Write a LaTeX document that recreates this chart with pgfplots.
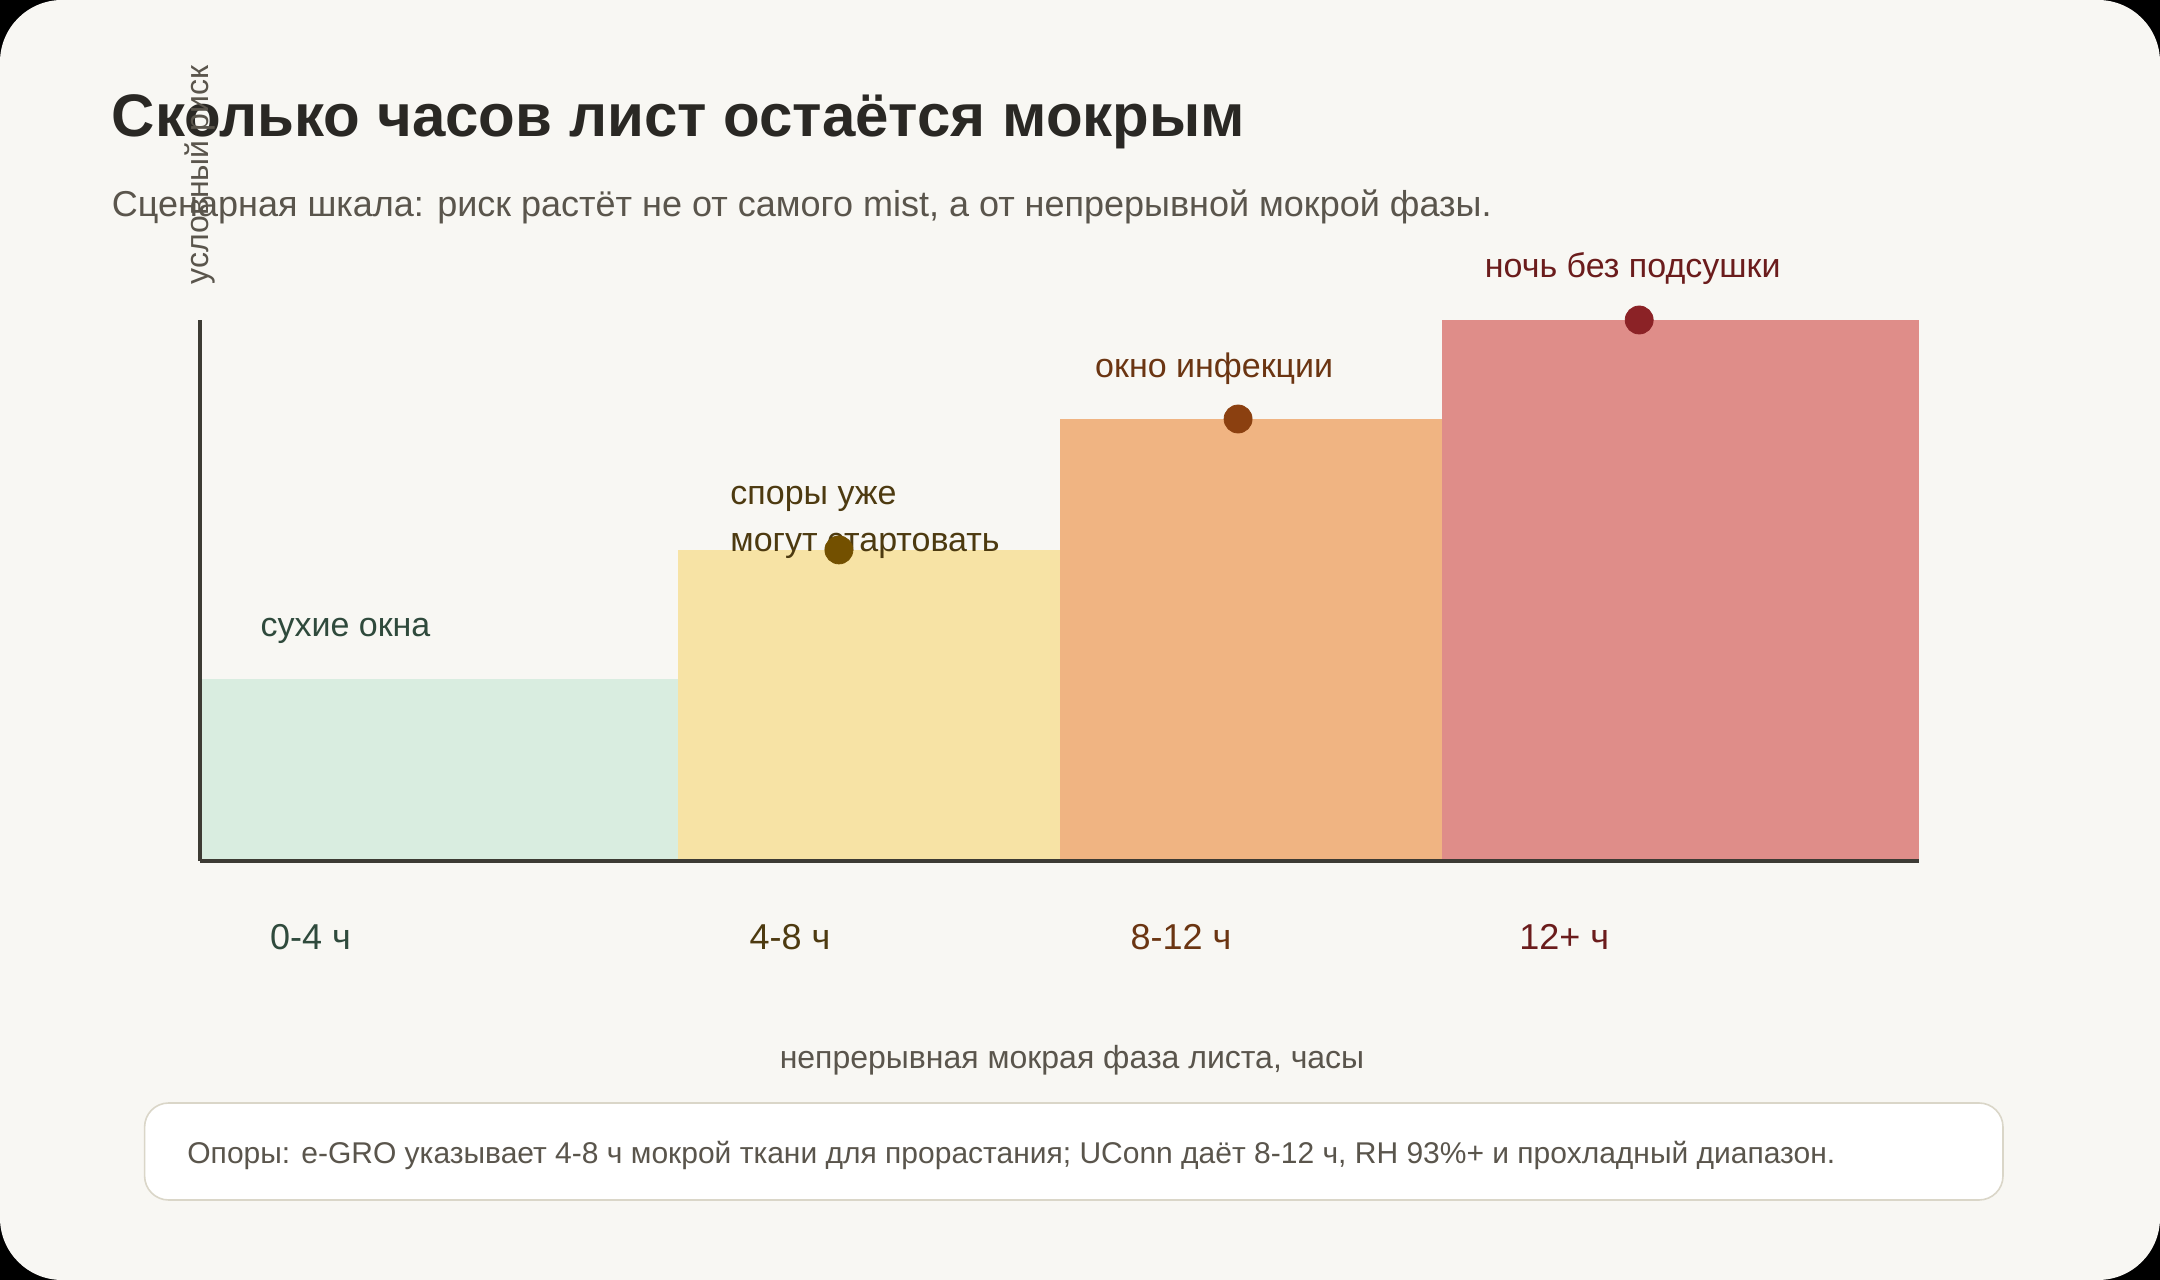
\documentclass[border=0pt]{standalone}
\usepackage{pgfplots}
\pgfplotsset{compat=1.18}
\usepackage{fontspec}
\setmainfont{Liberation Sans}
\definecolor{bg}{HTML}{F8F7F3}
\definecolor{axc}{HTML}{3D3B34}
\definecolor{cA}{HTML}{D9EDE0}
\definecolor{cB}{HTML}{F7E3A5}
\definecolor{cC}{HTML}{F0B482}
\definecolor{cD}{HTML}{DF8D89}
\definecolor{dB}{HTML}{735000}
\definecolor{dC}{HTML}{8B4010}
\definecolor{dD}{HTML}{8B2226}
\definecolor{tA}{HTML}{2F4A3C}
\definecolor{tB}{HTML}{4D3A10}
\definecolor{tC}{HTML}{6B3512}
\definecolor{tD}{HTML}{6B1C1C}
\definecolor{titc}{HTML}{2A2824}
\definecolor{subc}{HTML}{5A554C}
\definecolor{boxb}{HTML}{DAD6C8}
\begin{document}
\begin{tikzpicture}
\useasboundingbox (0,0) rectangle (1080pt,640pt);
\fill[black] (0,0) rectangle (1080pt,640pt);
\fill[bg, rounded corners=31pt] (0,0) rectangle (1080pt,640pt);
\begin{axis}[at={(100pt,209.5pt)}, anchor=south west, scale only axis,
  width=859.5pt, height=270.5pt, xmin=0, xmax=18, ymin=0, ymax=100,
  axis x line*=bottom, axis y line*=left,
  x axis line style={-, line width=1.6pt, color=axc},
  y axis line style={-, line width=2.2pt, color=axc},
  xtick=\empty, ytick=\empty, clip=false, axis on top]
\addplot[fill=cA, draw=none] coordinates {(0,0) (0,33.6) (5,33.6) (5,0)} -- cycle;
\addplot[fill=cB, draw=none] coordinates {(5,0) (5,57.5) (9,57.5) (9,0)} -- cycle;
\addplot[fill=cC, draw=none] coordinates {(9,0) (9,81.7) (13,81.7) (13,0)} -- cycle;
\addplot[fill=cD, draw=none] coordinates {(13,0) (13,100) (18,100) (18,0)} -- cycle;
\addplot[only marks, mark=*, mark size=7pt, color=dB] coordinates {(6.69,57.5)};
\addplot[only marks, mark=*, mark size=7pt, color=dC] coordinates {(10.87,81.7)};
\addplot[only marks, mark=*, mark size=7pt, color=dD] coordinates {(15.07,100)};
\node[anchor=west, text=tA, font=\fontsize{17}{20}\selectfont, inner sep=0] at (axis cs:0.63,42.6) {сухие окна};
\node[anchor=west, text=tB, font=\fontsize{17}{20}\selectfont, inner sep=0] at (axis cs:5.55,67.0) {споры уже};
\node[anchor=west, text=tB, font=\fontsize{17}{20}\selectfont, inner sep=0] at (axis cs:5.55,58.2) {могут стартовать};
\node[anchor=west, text=tC, font=\fontsize{17}{20}\selectfont, inner sep=0] at (axis cs:9.37,91.0) {окно инфекции};
\node[anchor=west, text=tD, font=\fontsize{17}{20}\selectfont, inner sep=0] at (axis cs:13.45,109.5) {ночь без подсушки};
\node[anchor=west, text=tA, font=\fontsize{18}{21}\selectfont, inner sep=0] at (axis cs:0.73,-14) {0-4 ч};
\node[anchor=west, text=tB, font=\fontsize{18}{21}\selectfont, inner sep=0] at (axis cs:5.75,-14) {4-8 ч};
\node[anchor=west, text=tC, font=\fontsize{18}{21}\selectfont, inner sep=0] at (axis cs:9.74,-14) {8-12 ч};
\node[anchor=west, text=tD, font=\fontsize{18}{21}\selectfont, inner sep=0] at (axis cs:13.81,-14) {12+ ч};
\end{axis}
\begin{scope}[yshift=640pt, x=0.5pt, y=-0.5pt]
\node[anchor=west, text=titc, font=\fontsize{30}{35}\selectfont\bfseries, inner sep=0] at (111.6,121.5) {Сколько часов лист остаётся мокрым};
\node[anchor=west, text=subc, font=\fontsize{18}{21}\selectfont, inner sep=0] at (111.6,207) {Сценарная шкала: риск растёт не от самого mist, а от непрерывной мокрой фазы.};
\node[rotate=90, text=subc, font=\fontsize{16}{19}\selectfont, inner sep=0] at (200,175) {условный риск};
\node[text=subc, font=\fontsize{16}{19}\selectfont, inner sep=0] at (1072,1060) {непрерывная мокрая фаза листа, часы};
\filldraw[fill=white, draw=boxb, line width=0.8pt, rounded corners=12pt] (144.6,1103) rectangle (2003,1200);
\node[anchor=west, text=subc, font=\fontsize{15}{18}\selectfont, inner sep=0] at (187,1155) {Опоры: e-GRO указывает 4-8 ч мокрой ткани для прорастания; UConn даёт 8-12 ч, RH 93\%+ и прохладный диапазон.};
\end{scope}
\end{tikzpicture}
\end{document}
